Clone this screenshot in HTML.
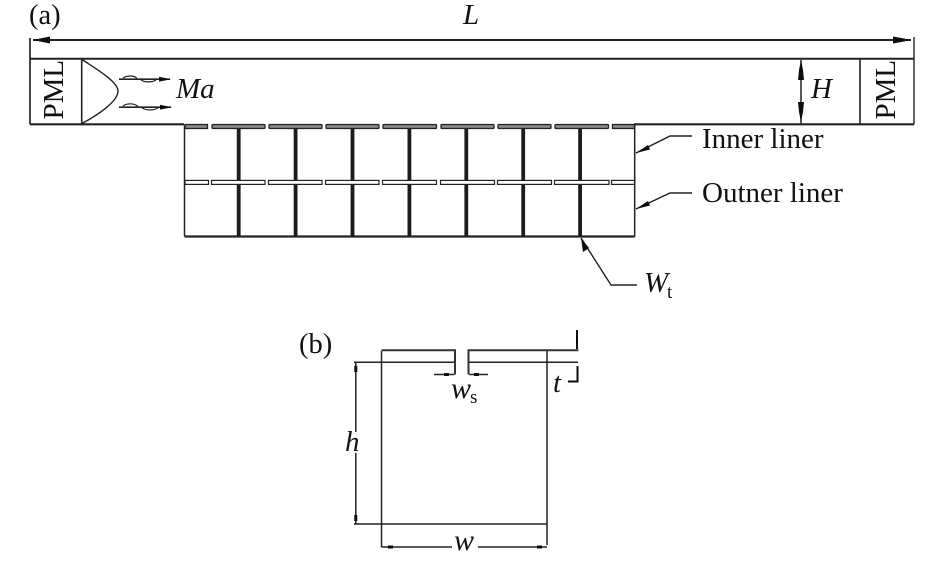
<!DOCTYPE html>
<html>
<head>
<meta charset="utf-8">
<style>
html,body{margin:0;padding:0;background:#fff;}
svg{display:block;}
text{font-family:"Liberation Serif",serif;fill:#111;}
.i{font-style:italic;}
</style>
</head>
<body>
<svg width="945" height="562" viewBox="0 0 945 562" xmlns="http://www.w3.org/2000/svg">
<defs><filter id="b" x="0" y="0" width="100%" height="100%" filterUnits="userSpaceOnUse" primitiveUnits="userSpaceOnUse"><feGaussianBlur stdDeviation="0.35"/></filter></defs>
<g filter="url(#b)">
<g fill="none" stroke="#222" stroke-width="1.7">
  <path d="M30 38V124.3"/>
  <path d="M30 58.7H914" stroke-width="2"/>
  <path d="M914 37V124.3" stroke-width="1.4"/>
  <path d="M30 124.3H184M634 124.3H914" stroke-width="2.1"/>
  <path d="M81.7 59V124M860 59V124" stroke-width="1.6"/>
  <path d="M33 40H911" stroke-width="2"/>
  <path d="M82 59.5C98 70 118 82 118 91C118 102 96 116 82 123.5" stroke-width="1.4"/>
  <path d="M801 60V124" stroke-width="1.5"/>
  <path d="M184.5 125V236.5M634.7 125V236.5" stroke-width="1.5"/>
  <path d="M184.5 236.5H634.7" stroke-width="2.2"/>
</g>
<path d="M33 40L40 38.5L50 36.5V43.5L40 41.5Z M911 40L904 38.5L893 36.5V43.5L904 41.5Z" fill="#111"/>
<path d="M801 60L799 70L798 80H804L803 70Z M801 122L799 112L798 102H804L803 112Z" fill="#111"/>
<g stroke="#1a1a1a" stroke-width="3.8" fill="none">
  <path d="M238.7 128V236M295.6 128V236M352.5 128V236M409.4 128V236M466.3 128V236M523.2 128V236M580.1 128V236"/>
</g>
<g fill="#888" stroke="#222" stroke-width="1.3">
  <rect x="185" y="124.5" width="22.5" height="4"/>
  <rect x="212" y="124.5" width="53" height="4" rx="1"/>
  <rect x="269" y="124.5" width="53" height="4" rx="1"/>
  <rect x="326" y="124.5" width="53" height="4" rx="1"/>
  <rect x="383" y="124.5" width="53.5" height="4" rx="1"/>
  <rect x="441" y="124.5" width="53" height="4" rx="1"/>
  <rect x="498" y="124.5" width="53" height="4" rx="1"/>
  <rect x="555" y="124.5" width="53.5" height="4" rx="1"/>
  <rect x="612.5" y="124.5" width="22" height="4"/>
</g>
<g fill="#fff" stroke="#222" stroke-width="1.2">
  <rect x="185" y="180.4" width="23.5" height="4"/>
  <rect x="211.5" y="180.4" width="53.5" height="4"/>
  <rect x="268.5" y="180.4" width="53.5" height="4"/>
  <rect x="325.5" y="180.4" width="53.5" height="4"/>
  <rect x="382.5" y="180.4" width="54" height="4"/>
  <rect x="440.5" y="180.4" width="54" height="4"/>
  <rect x="497.5" y="180.4" width="54" height="4"/>
  <rect x="554.5" y="180.4" width="54.5" height="4"/>
  <rect x="611.5" y="180.4" width="23" height="4"/>
</g>
<g fill="none" stroke="#222" stroke-width="1.2">
  <path d="M119 79.2H170" stroke-width="1.6"/>
  <path d="M119 107.2H171" stroke-width="1.6"/>
  <path d="M123 78C127 75.5 134 75 137 78.5"/>
  <path d="M123 106C127 103 134 103 138 106.5"/>
  <path d="M141 80C145 82.5 152 82.5 156 80"/>
  <path d="M142 108C147 110.5 153 110.5 158 108"/>
</g>
<path d="M171 79.2L159 76.8V81.6Z M172 107.2L160 104.8V109.6Z" fill="#111"/>
<g fill="none" stroke="#222" stroke-width="1.4">
  <path d="M636 153L670 136H692"/>
  <path d="M636 209L670 193H692"/>
  <path d="M581 238L611 285H637"/>
</g>
<path d="M636 153L648 145L650 149.5Z M636 209L648 201L650 205.5Z M581 238L583 252L589 248Z" fill="#111"/>

<g fill="none" stroke="#222" stroke-width="1.5">
  <path d="M381.5 351V547M547 351V545"/>
  <path d="M354 362.3H455M468.5 362.3H578"/>
  <path d="M354 524H547"/>
  <path d="M381.5 547H452M478 547H547"/>
  <path d="M355.8 362.5V432M355.8 453V524"/>
  <path d="M434 374.5H454.5M469 374.5H488"/>
</g>
<path d="M381.5 350.3H455V374.5M578.5 350.3H468.5V374.5" fill="none" stroke="#333" stroke-width="2"/>
<path d="M577 330V349M568 381.5H577.5V366" fill="none" stroke="#111" stroke-width="2"/>
<path d="M354.3 366H357.3V372H354.3Z M354.3 515H357.3V521H354.3Z M388 545.5H393V548.5H388Z M537 545.5H542V548.5H537Z M444 373H449V376H444Z M474 373H479V376H474Z" fill="#111"/>
</g>

<text x="29" y="24" font-size="28.5">(a)</text>
<text x="463" y="24" font-size="29" class="i">L</text>
<text x="176" y="98" font-size="29" class="i">Ma</text>
<text x="811" y="98" font-size="29" class="i">H</text>
<text x="702" y="148" font-size="29">Inner liner</text>
<text x="702" y="202" font-size="29">Outner liner</text>
<text x="644" y="292" font-size="29" class="i">W</text>
<text x="667" y="298" font-size="19">t</text>
<text transform="translate(63,119.5) rotate(-90)" font-size="29">PML</text>
<text transform="translate(895,119.5) rotate(-90)" font-size="29">PML</text>
<text x="299" y="353" font-size="28.5">(b)</text>
<text x="451" y="398" font-size="30" class="i">w</text>
<text x="470" y="403" font-size="19">s</text>
<text x="553" y="392" font-size="29" class="i">t</text>
<text x="345" y="451" font-size="29" class="i">h</text>
<text x="454" y="550" font-size="30" class="i">w</text>
</svg>
</body>
</html>
